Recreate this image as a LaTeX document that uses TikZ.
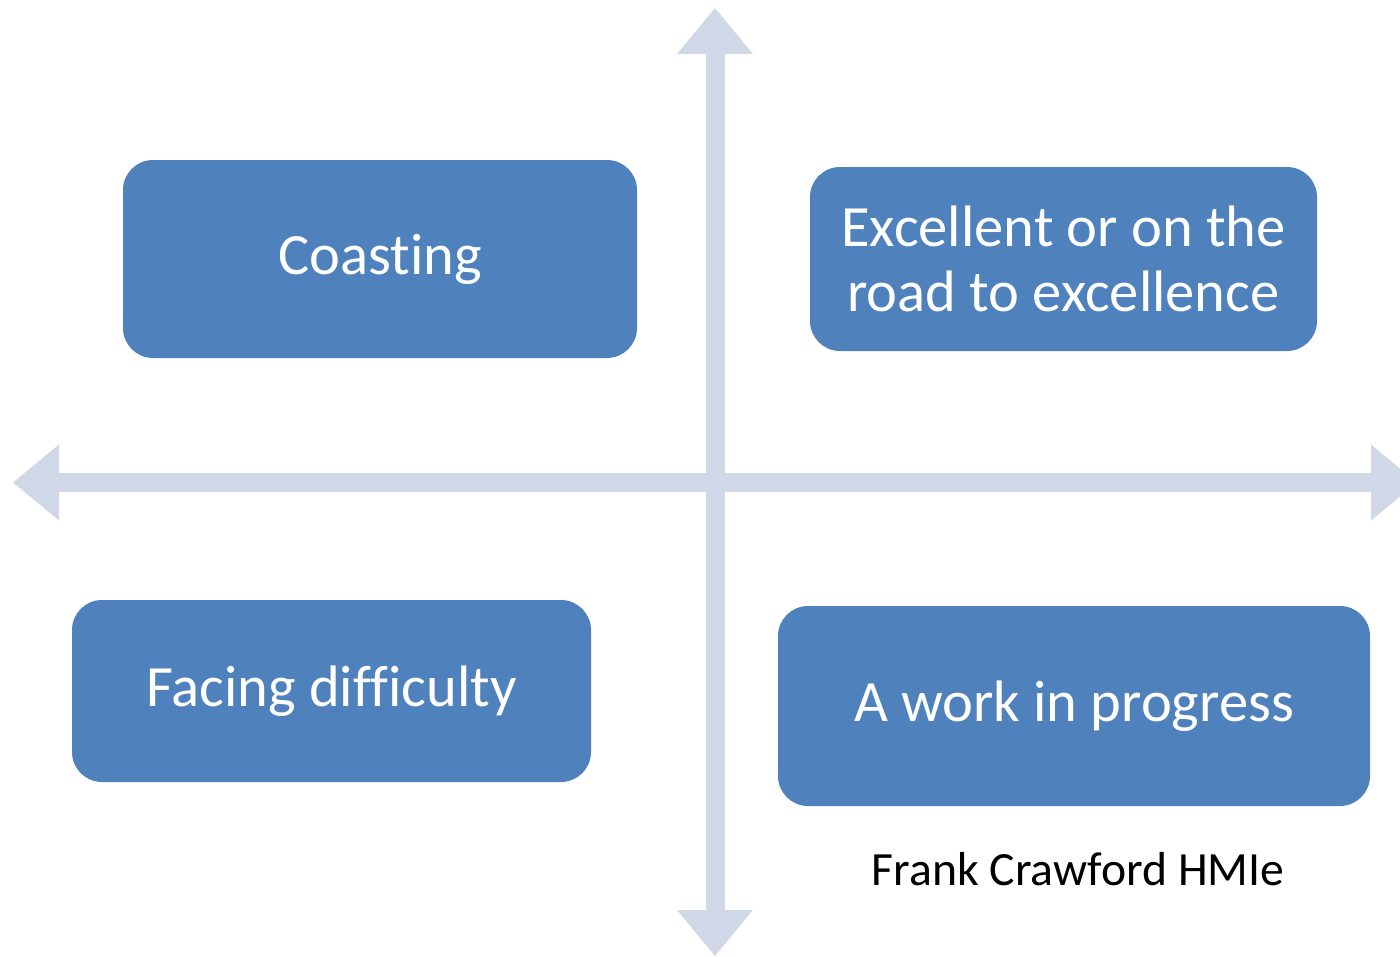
\documentclass[tikz,border=0pt]{standalone}
\usepackage{fontspec}
\setmainfont[Ligatures=NoCommon]{Carlito}
\usetikzlibrary{arrows.meta}
\definecolor{boxblue}{HTML}{4F81BD}
\definecolor{axisgray}{HTML}{D0D8E8}
\begin{document}
\begin{tikzpicture}[x=1pt,y=-1pt,
  quad/.style={fill=boxblue, rounded corners=30pt, text=white,
    font=\fontsize{58.5}{65}\selectfont, align=center, inner sep=0pt},
  axistip/.tip={Triangle[width=76pt,length=46pt,line width=0pt]},
  axis/.style={draw=axisgray, fill=axisgray, line width=19pt, axistip-axistip},
  credit/.style={font=\fontsize{47.7}{52}\selectfont, text=black, inner sep=0pt}]
\useasboundingbox (0,0) rectangle (1400,956);
\clip (0,0) rectangle (1400,956);
\coordinate (top) at (715,8);
\coordinate (bottom) at (715,956);
\coordinate (left) at (13,482.5);
\coordinate (right) at (1417,482.5);
\draw[axis] (top) -- (bottom);
\draw[axis] (left) -- (right);
\node[quad, minimum width=514pt, minimum height=198pt] (coast) at (380,259) {Coasting};
\node[quad, minimum width=507pt, minimum height=184pt] (excel) at (1063.5,259) {Excellent or on the\\road to excellence};
\node[quad, minimum width=519pt, minimum height=182pt] (facing) at (331.5,691) {Facing difficulty};
\node[quad, minimum width=592pt, minimum height=200pt] (work) at (1074,706) {A work in progress};
\node[credit] (frank) at (1078,869) {Frank Crawford HMIe};
\end{tikzpicture}
\end{document}
